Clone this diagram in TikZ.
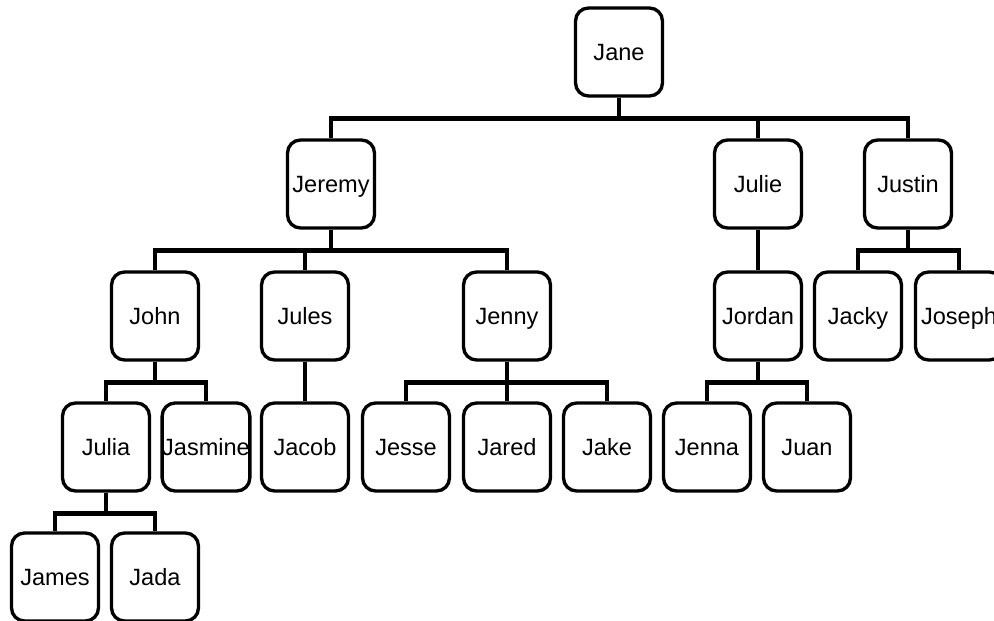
\documentclass[tikz,border=0pt]{standalone}
\usepackage{fontspec}
\setmainfont{Liberation Sans}

\def\px{0.02cm}
\tikzstyle{person} = [draw, line width=1.9pt, rounded corners=0.26cm, minimum width=1.74cm, minimum height=1.76cm, inner sep=0pt, text height=9.6pt, text depth=0pt, font=\fontsize{13.4}{15}\selectfont]
\tikzstyle{link} = [draw, line width=2.5pt, -]

\begin{document}
\begin{tikzpicture}[x=\px, y=-\px]
       \useasboundingbox (0,0) rectangle (994,621);
       \foreach \pos/\name in {{(619,52)/Jane}, {(331,184)/Jeremy}, {(758,184)/Julie}, {(908,184)/Justin}, {(155,316)/John}, {(305,316)/Jules}, {(507,316)/Jenny}, {(758,316)/Jordan}, {(858,316)/Jacky}, {(959,316)/Joseph}, {(106,447)/Julia}, {(206,447)/Jasmine}, {(305,447)/Jacob}, {(406,447)/Jesse}, {(507,447)/Jared}, {(607,447)/Jake}, {(707,447)/Jenna}, {(807,447)/Juan}, {(55,577)/James}, {(155,577)/Jada}} {
           \node[person] (\name) at \pos {\name};
       }
       \foreach \source/\sink in {Jane/Jeremy, Jane/Julie, Jane/Justin, Jeremy/John, Jeremy/Jules, Jeremy/Jenny, Julie/Jordan, Justin/Jacky, Justin/Joseph, John/Julia, John/Jasmine, Jules/Jacob, Jenny/Jesse, Jenny/Jared, Jenny/Jake, Jordan/Jenna, Jordan/Juan, Julia/James, Julia/Jada} {
           \path[link] (\source.south) -- ++(0,21) -| (\sink.north);
       }
\end{tikzpicture}
\end{document}
